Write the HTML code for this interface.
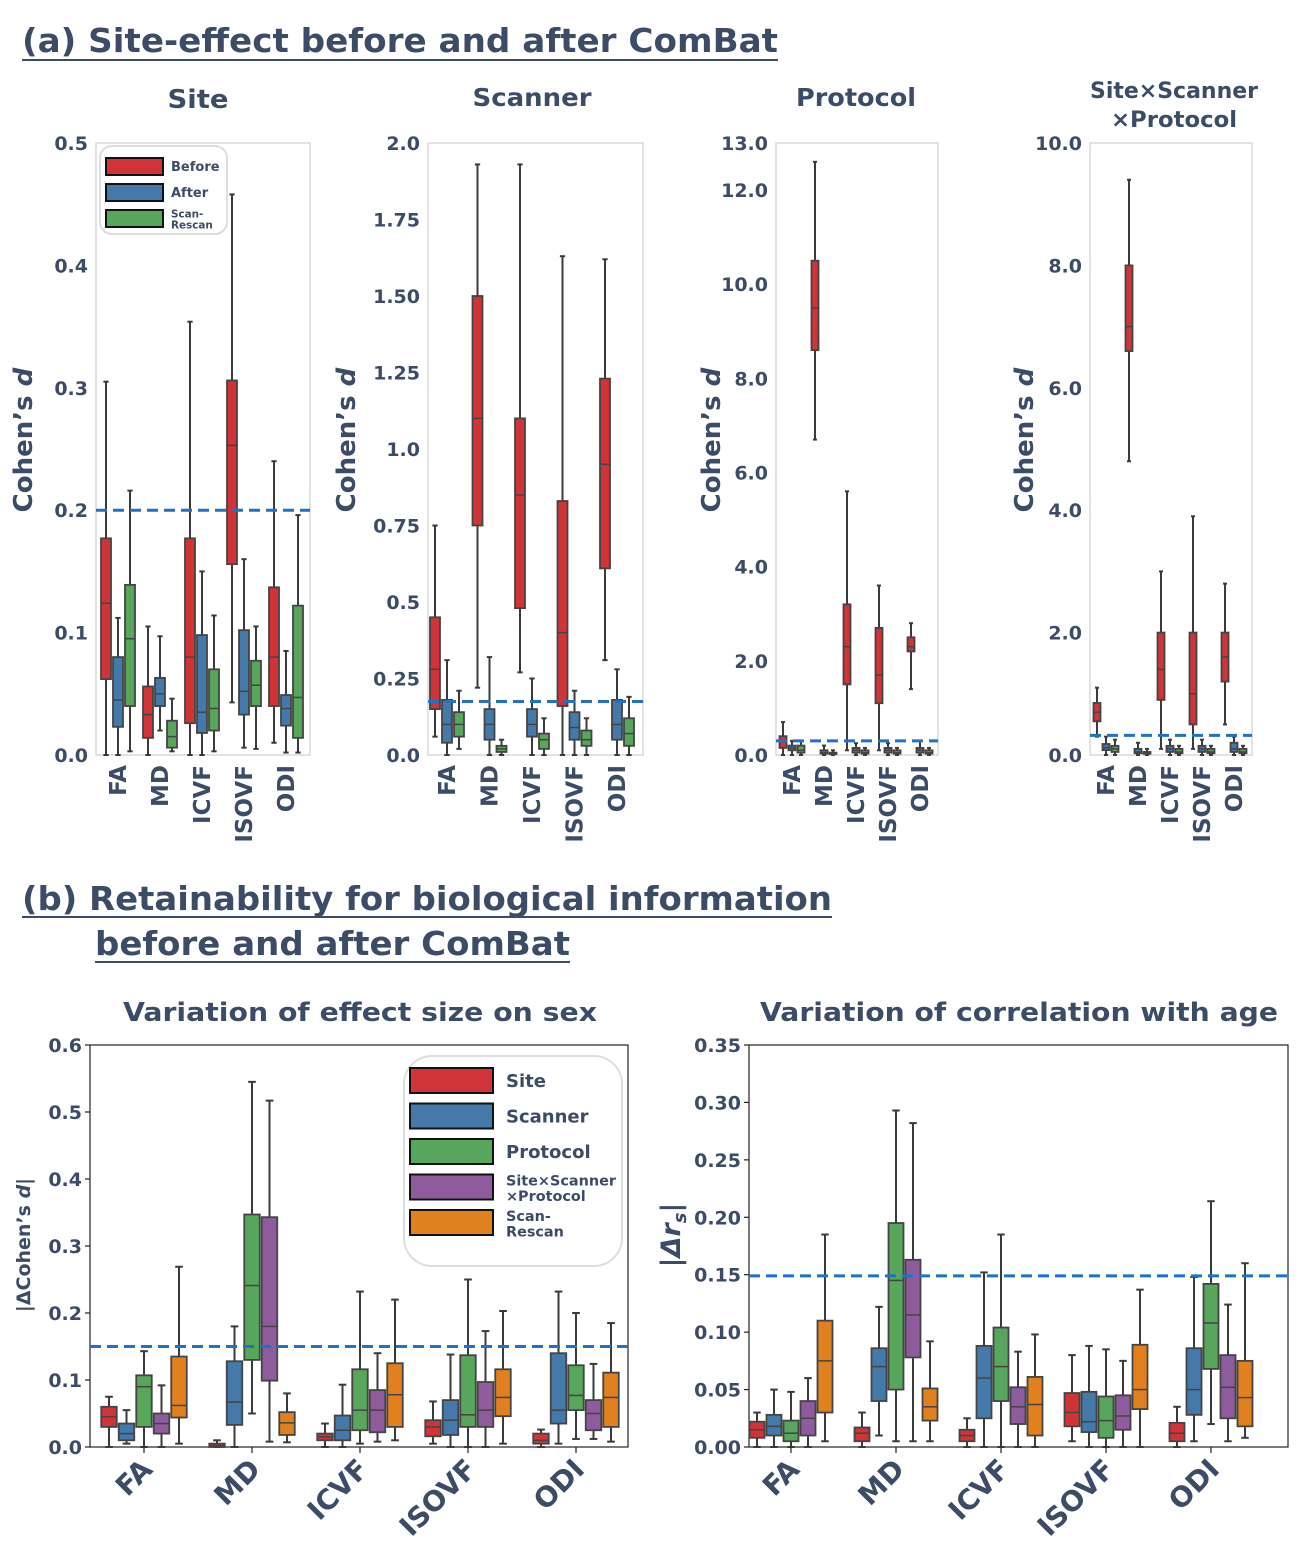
<!DOCTYPE html>
<html><head><meta charset="utf-8"><style>
html,body{margin:0;padding:0;background:#fff;}
svg{display:block;font-family:"DejaVu Sans","Liberation Sans",sans-serif;}
</style></head><body>
<svg id="fig" width="1307" height="1568" viewBox="0 0 1307 1568" xmlns="http://www.w3.org/2000/svg">
<g fill="#3d4c66" font-weight="bold">
<text x="22" y="52" font-size="33" textLength="756" lengthAdjust="spacingAndGlyphs">(a) Site-effect before and after ComBat</text>
<line x1="22" y1="60" x2="778" y2="60" stroke="#3d4c66" stroke-width="2"/>
<text x="198" y="108" font-size="26" text-anchor="middle" textLength="61" lengthAdjust="spacingAndGlyphs">Site</text>
<text x="532" y="106" font-size="25" text-anchor="middle" textLength="119" lengthAdjust="spacingAndGlyphs">Scanner</text>
<text x="856" y="106" font-size="25" text-anchor="middle" textLength="120" lengthAdjust="spacingAndGlyphs">Protocol</text>
<text x="1174" y="98" font-size="22" text-anchor="middle" textLength="168" lengthAdjust="spacingAndGlyphs">Site×Scanner</text>
<text x="1174" y="127" font-size="22" text-anchor="middle" textLength="126" lengthAdjust="spacingAndGlyphs">×Protocol</text>
<text x="22" y="910" font-size="33" textLength="810" lengthAdjust="spacingAndGlyphs">(b) Retainability for biological information</text>
<line x1="22" y1="917" x2="832" y2="917" stroke="#3d4c66" stroke-width="2"/>
<text x="95" y="955" font-size="33" textLength="475" lengthAdjust="spacingAndGlyphs">before and after ComBat</text>
<line x1="95" y1="962" x2="570" y2="962" stroke="#3d4c66" stroke-width="2"/>
<text x="360" y="1021" font-size="26" text-anchor="middle" textLength="474" lengthAdjust="spacingAndGlyphs">Variation of effect size on sex</text>
<text x="1019" y="1021" font-size="26" text-anchor="middle" textLength="518" lengthAdjust="spacingAndGlyphs">Variation of correlation with age</text>
</g>
<g id="plots"></g>
</svg>
<script>
// ---- data: [whisker-low, q1, median, q3, whisker-high] per metric ----
const metrics = ["FA","MD","ICVF","ISOVF","ODI"];
const siteBefore = [[0,0.062,0.124,0.177,0.305],[0,0.014,0.033,0.056,0.105],[0,0.026,0.08,0.177,0.354],[0.043,0.156,0.253,0.306,0.458],[0.01,0.04,0.08,0.137,0.24]];
const siteAfter = [[0,0.023,0.045,0.08,0.112],[0.02,0.04,0.05,0.063,0.097],[0,0.018,0.035,0.098,0.15],[0.006,0.033,0.052,0.102,0.16],[0.002,0.024,0.038,0.049,0.085]];
const siteRescan = [[0.003,0.04,0.095,0.139,0.216],[0.003,0.006,0.015,0.028,0.046],[0.003,0.02,0.038,0.07,0.114],[0.005,0.04,0.057,0.077,0.105],[0.002,0.014,0.047,0.122,0.196]];
const scannerBefore = [[0.06,0.15,0.28,0.45,0.75],[0.22,0.75,1.1,1.5,1.93],[0.27,0.48,0.85,1.1,1.93],[0,0.16,0.4,0.83,1.63],[0.31,0.61,0.95,1.23,1.62]];
const scannerAfter = [[0,0.04,0.1,0.18,0.31],[0,0.05,0.1,0.15,0.32],[0,0.06,0.1,0.15,0.25],[0,0.05,0.09,0.14,0.21],[0,0.05,0.1,0.18,0.28]];
const scannerRescan = [[0.02,0.06,0.1,0.14,0.21],[0,0.01,0.02,0.03,0.05],[0,0.02,0.05,0.07,0.12],[0,0.03,0.05,0.08,0.12],[0,0.03,0.07,0.12,0.19]];
const protocolBefore = [[0,0.15,0.3,0.4,0.7],[6.7,8.6,9.5,10.5,12.6],[0.1,1.5,2.3,3.2,5.6],[0.1,1.1,1.7,2.7,3.6],[1.4,2.2,2.3,2.5,2.8]];
const protocolAfter = [[0,0.1,0.15,0.2,0.3],[0,0.03,0.05,0.1,0.2],[0,0.05,0.1,0.15,0.25],[0,0.05,0.1,0.15,0.25],[0,0.05,0.1,0.15,0.3]];
const protocolRescan = [[0,0.05,0.1,0.2,0.3],[0,0.02,0.03,0.05,0.1],[0,0.03,0.05,0.1,0.15],[0,0.03,0.05,0.1,0.15],[0,0.03,0.05,0.1,0.15]];
const ssBefore = [[0.3,0.55,0.7,0.85,1.1],[4.8,6.6,7,8,9.4],[0.1,0.9,1.4,2.0,3.0],[0.1,0.5,1.0,2.0,3.9],[0.5,1.2,1.6,2.0,2.8]];
const ssAfter = [[0,0.08,0.12,0.18,0.3],[0,0.03,0.05,0.1,0.2],[0,0.05,0.1,0.15,0.25],[0,0.05,0.1,0.15,0.25],[0,0.05,0.1,0.2,0.3]];
const ssRescan = [[0,0.05,0.1,0.15,0.25],[0,0.02,0.03,0.05,0.1],[0,0.03,0.05,0.1,0.15],[0,0.03,0.05,0.1,0.15],[0,0.03,0.05,0.1,0.15]];
const sexSite = [[0,0.03,0.045,0.06,0.075],[0,0,0.002,0.005,0.01],[0,0.01,0.015,0.02,0.035],[0.005,0.016,0.03,0.04,0.068],[0,0.005,0.01,0.02,0.026]];
const sexScanner = [[0.005,0.01,0.02,0.035,0.055],[0,0.033,0.067,0.128,0.18],[0,0.01,0.025,0.047,0.093],[0,0.018,0.04,0.07,0.138],[0.005,0.035,0.055,0.14,0.232]];
const sexProtocol = [[0,0.03,0.09,0.107,0.143],[0.05,0.13,0.241,0.347,0.545],[0.005,0.025,0.055,0.116,0.232],[0,0.03,0.048,0.137,0.25],[0.012,0.055,0.077,0.122,0.2]];
const sexInter = [[0,0.02,0.035,0.05,0.092],[0.008,0.099,0.18,0.343,0.517],[0.008,0.022,0.055,0.085,0.14],[0,0.03,0.055,0.097,0.173],[0.012,0.025,0.05,0.07,0.124]];
const sexRescan = [[0.005,0.044,0.062,0.135,0.269],[0.007,0.018,0.036,0.052,0.08],[0.01,0.03,0.078,0.125,0.22],[0.005,0.046,0.074,0.116,0.203],[0.008,0.03,0.074,0.111,0.185]];
const ageSite = [[0,0.008,0.015,0.022,0.03],[0,0.005,0.012,0.017,0.03],[0,0.005,0.01,0.015,0.025],[0.005,0.018,0.03,0.047,0.08],[0,0.005,0.012,0.021,0.035]];
const ageScanner = [[0,0.01,0.018,0.028,0.05],[0.01,0.04,0.07,0.086,0.122],[0,0.025,0.06,0.088,0.152],[0,0.013,0.022,0.048,0.088],[0.005,0.028,0.05,0.086,0.148]];
const ageProtocol = [[0,0.005,0.012,0.023,0.048],[0.005,0.05,0.145,0.195,0.293],[0,0.04,0.07,0.104,0.185],[0,0.008,0.023,0.044,0.085],[0.02,0.068,0.108,0.142,0.214]];
const ageInter = [[0,0.01,0.025,0.04,0.06],[0.005,0.078,0.115,0.163,0.282],[0,0.02,0.035,0.052,0.083],[0,0.015,0.027,0.045,0.075],[0.005,0.025,0.052,0.08,0.124]];
const ageRescan = [[0.005,0.03,0.075,0.11,0.185],[0.005,0.023,0.035,0.051,0.092],[0,0.01,0.037,0.061,0.098],[0,0.033,0.05,0.089,0.137],[0.008,0.018,0.043,0.075,0.16]];
const ticksA1 = [0,0.1,0.2,0.3,0.4,0.5];
const ticksA1Labels = ["0.0","0.1","0.2","0.3","0.4","0.5"];
const ticksA2 = [0,0.25,0.5,0.75,1.0,1.25,1.5,1.75,2.0];
const ticksA2Labels = ["0.0","0.25","0.5","0.75","1.0","1.25","1.50","1.75","2.0"];
const ticksA3 = [0,2,4,6,8,10,12,13];
const ticksA3Labels = ["0.0","2.0","4.0","6.0","8.0","10.0","12.0","13.0"];
const ticksA4 = [0,2,4,6,8,10];
const ticksA4Labels = ["0.0","2.0","4.0","6.0","8.0","10.0"];
const ticksB1 = [0,0.1,0.2,0.3,0.4,0.5,0.6];
const ticksB1Labels = ["0.0","0.1","0.2","0.3","0.4","0.5","0.6"];
const ticksB2 = [0,0.05,0.1,0.15,0.2,0.25,0.3,0.35];
const ticksB2Labels = ["0.00","0.05","0.10","0.15","0.20","0.25","0.30","0.35"];
const thresholds = [0.2, 0.175, 0.3, 0.32, 0.15, 0.149];

const NS="http://www.w3.org/2000/svg";
const root=document.getElementById('plots');
const TXT="#3d4c66";
const COL3=["#d13438","#4479aa","#58a55c"];
const COL5=["#d13438","#4479aa","#58a55c","#8e5c9d","#e0801f"];
function mk(tag,attrs,parent){const e=document.createElementNS(NS,tag);for(const k in attrs)e.setAttribute(k,attrs[k]);(parent||root).appendChild(e);return e;}

function panel(p){
  const g=mk('g',{});
  
  
  const y=v=>p.y0+(v-p.ymin)/(p.ymax-p.ymin)*(p.y1-p.y0);
  const fr=mk('rect',{x:p.x0,y:p.y1,width:p.x1-p.x0,height:p.y0-p.y1,fill:'none',stroke:p.frame,'stroke-width':p.frameW},g);
  
  
  p.ticks.forEach((t,i)=>{
    const tx=mk('text',{x:p.x0-8,y:y(t)+7,'font-size':p.tfs,'font-weight':'bold',fill:TXT,'text-anchor':'end'},g);
    tx.textContent=p.tickLabels[i];
    
    
    if(p.tickMarks) mk('line',{x1:p.x0-5,x2:p.x0,y1:y(t),y2:y(t),stroke:'#222','stroke-width':1.2},g);
  });
  const n=p.series.length;
  metrics.forEach((m,mi)=>{
    const cx=p.c0+mi*p.step;
    p.series.forEach((s,si)=>{
      const d=s[mi];
      const bx=cx+(si-(n-1)/2)*p.bw;
      const bg=mk('g',{},g);
      
      
      mk('line',{x1:bx,x2:bx,y1:y(d[0]),y2:y(d[1]),stroke:'#3a3a3a','stroke-width':2},bg);
      mk('line',{x1:bx,x2:bx,y1:y(d[3]),y2:y(d[4]),stroke:'#3a3a3a','stroke-width':2},bg);
      mk('line',{x1:bx-p.bw*0.22,x2:bx+p.bw*0.22,y1:y(d[0]),y2:y(d[0]),stroke:'#3a3a3a','stroke-width':2},bg);
      mk('line',{x1:bx-p.bw*0.22,x2:bx+p.bw*0.22,y1:y(d[4]),y2:y(d[4]),stroke:'#3a3a3a','stroke-width':2},bg);
      mk('rect',{x:bx-p.bw/2+1,y:y(d[3]),width:p.bw-2,height:Math.max(1,y(d[1])-y(d[3])),fill:p.colors[si],stroke:'#444','stroke-width':1.8},bg);
      mk('line',{x1:bx-p.bw/2+1,x2:bx+p.bw/2-1,y1:y(d[2]),y2:y(d[2]),stroke:'#444','stroke-width':1.5},bg);
    });
    if(p.tickMarks) mk('line',{x1:cx,x2:cx,y1:p.y0,y2:p.y0+6,stroke:'#222','stroke-width':1.2},g);
    const lx=cx+p.lxoff, ly=p.y0+p.lyoff;
    const t=mk('text',{x:lx,y:ly,'font-size':p.xfs,'font-weight':'bold',fill:TXT,'text-anchor':'end',transform:'rotate('+p.rot+' '+lx+' '+ly+')'},g);
    t.textContent=m;
    
    
  });
  const th=mk('line',{x1:p.x0,x2:p.x1,y1:y(p.thr),y2:y(p.thr),stroke:'#1f72c4','stroke-width':3,'stroke-dasharray':'11,6'},g);
  
  
  const yl=mk('text',{x:p.ylx,y:p.yly,'font-size':p.ylfs,'font-weight':'bold',fill:TXT,'text-anchor':'middle',transform:'rotate(-90 '+p.ylx+' '+p.yly+')'},g);
  yl.innerHTML=p.ylabel;
  
  
  return g;
}
const A={ymin:0,y0:755,y1:143,tfs:19,xfs:23,rot:-90,lyoff:10,frame:'#d8d8d8',frameW:1.5,tickMarks:false,colors:COL3,snames:['before','after','rescan'],ylfs:26,yly:440,ylabel:'Cohen’s <tspan font-style="italic">d</tspan>'};
panel(Object.assign({},A,{name:'panel-site',x0:96,x1:310,ymax:0.5,c0:118,step:42,bw:12,lxoff:8,series:[siteBefore,siteAfter,siteRescan],ticks:ticksA1,tickLabels:ticksA1Labels,thr:thresholds[0],ylx:32}));
panel(Object.assign({},A,{name:'panel-scanner',x0:428,x1:643,ymax:2.0,c0:447,step:42.5,bw:12,lxoff:8,series:[scannerBefore,scannerAfter,scannerRescan],ticks:ticksA2,tickLabels:ticksA2Labels,thr:thresholds[1],ylx:355}));
panel(Object.assign({},A,{name:'panel-protocol',x0:776,x1:938,ymax:13,c0:792,step:32,bw:9,lxoff:8,series:[protocolBefore,protocolAfter,protocolRescan],ticks:ticksA3,tickLabels:ticksA3Labels,thr:thresholds[2],ylx:720}));
panel(Object.assign({},A,{name:'panel-interaction',x0:1090,x1:1252,ymax:10,c0:1106,step:32,bw:9,lxoff:8,series:[ssBefore,ssAfter,ssRescan],ticks:ticksA4,tickLabels:ticksA4Labels,thr:thresholds[3],ylx:1033}));
const B={ymin:0,y0:1447,y1:1045,tfs:19,xfs:28,rot:-45,lyoff:24,frame:'#222',frameW:1.2,tickMarks:true,colors:COL5,snames:['site','scanner','protocol','interaction','rescan']};
panel(Object.assign({},B,{name:'panel-sex',x0:90,x1:628,ymax:0.6,c0:144,step:108,bw:17.5,lxoff:10,series:[sexSite,sexScanner,sexProtocol,sexInter,sexRescan],ticks:ticksB1,tickLabels:ticksB1Labels,thr:thresholds[4],ylx:30,yly:1245,ylfs:19,ylabel:'|ΔCohen’s <tspan font-style="italic">d</tspan>|'}));
panel(Object.assign({},B,{name:'panel-age',x0:749,x1:1288,ymax:0.35,c0:791,step:105,bw:17,lxoff:10,series:[ageSite,ageScanner,ageProtocol,ageInter,ageRescan],ticks:ticksB2,tickLabels:ticksB2Labels,thr:thresholds[5],ylx:680,yly:1235,ylfs:27,ylabel:'|<tspan font-style="italic">Δr</tspan><tspan font-size="18" dy="6" font-style="italic">s</tspan><tspan dy="-6">|</tspan>'}));

// legends
function legend(name,x,y,w,h,rx,items,colors,sw,sh,gap,fs,tx){
  const g=mk('g',{});
  
  
  mk('rect',{x:x,y:y,width:w,height:h,rx:rx,fill:'#fff',stroke:'#dddddd','stroke-width':2},g);
  items.forEach((it,i)=>{
    const yy=y+12+i*gap;
    const e=mk('g',{},g);
    
    
    mk('rect',{x:x+6,y:yy,width:sw,height:sh,fill:colors[i],stroke:'#111','stroke-width':2},e);
    const lines=it.split('\n');
    lines.forEach((l,li)=>{
      const t=mk('text',{x:x+tx,y:yy+sh/2+fs*0.35+(li-(lines.length-1)/2)*fs*0.85,'font-size':lines.length>1?fs*0.8:fs,'font-weight':'bold',fill:TXT},e);
      t.textContent=l;
    });
  });
}
legend('legend-a',100,146,127,88,12,['Before','After','Scan-\nRescan'],COL3,57,17,26,13,71);
legend('legend-b',404,1056,218,210,28,['Site','Scanner','Protocol','Site×Scanner\n×Protocol','Scan-\nRescan'],COL5,83,25,35.5,18,102);
</script>
</body></html>
